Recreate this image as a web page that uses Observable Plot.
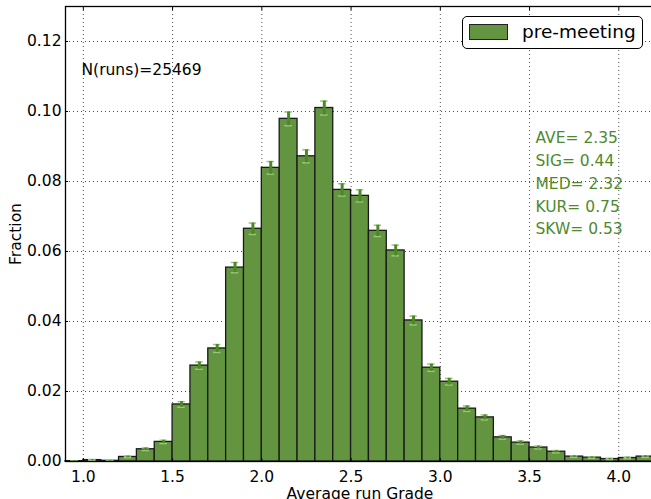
<!DOCTYPE html>
<html>
<head>
<meta charset="utf-8">
<script src="https://cdn.jsdelivr.net/npm/d3@7"></script>
<script src="https://cdn.jsdelivr.net/npm/@observablehq/plot@0.6"></script>
<style>
  html, body { margin: 0; padding: 0; background: #fff; overflow: hidden; }
  #wrap { position: relative; width: 651px; height: 499px; font-family: "DejaVu Sans", sans-serif; }
  #legend { position: absolute; left: 462px; top: 16px; width: 179px; height: 31px; border: 1.3px solid #000; border-radius: 5px; background: #fff; }
  #legend .patch { position: absolute; left: 6px; top: 7px; width: 37px; height: 14px; background: #639540; border: 1px solid #222; }
  #legend .lab { position: absolute; left: 59px; top: 3px; font-size: 18.5px; line-height: 24px; color: #000; }
</style>
</head>
<body>
<div id="wrap"></div>
<script>
// Bin left edges (width 0.1)
const binLeft = [0.9, 1.0, 1.1, 1.2, 1.3, 1.4, 1.5, 1.6, 1.7, 1.8, 1.9, 2.0, 2.1, 2.2, 2.3, 2.4, 2.5,
                 2.6, 2.7, 2.8, 2.9, 3.0, 3.1, 3.2, 3.3, 3.4, 3.5, 3.6, 3.7, 3.8, 3.9, 4.0, 4.1];
// Fraction per bin
const fraction = [0.0001, 0.0004, 0.0002, 0.0013, 0.0035, 0.0056, 0.0163, 0.0274, 0.0323, 0.0554, 0.0665,
                  0.0839, 0.0979, 0.0872, 0.1010, 0.0776, 0.0759, 0.0659, 0.0603, 0.0403, 0.0268, 0.0228,
                  0.0151, 0.0126, 0.0069, 0.0054, 0.0040, 0.0028, 0.0014, 0.0011, 0.0007, 0.0010, 0.0014];
// Error per bin
const fracErr = [0.00006, 0.00013, 0.00009, 0.00023, 0.00037, 0.00047, 0.0008, 0.00104, 0.00113, 0.00147, 0.00162,
                 0.00181, 0.00196, 0.00185, 0.00199, 0.00175, 0.00173, 0.00161, 0.00154, 0.00126, 0.00103, 0.00095,
                 0.00077, 0.0007, 0.00052, 0.00046, 0.0004, 0.00033, 0.00023, 0.00021, 0.00017, 0.0002, 0.00023];
const binWidth = 0.1;
const xTicks = [1.0, 1.5, 2.0, 2.5, 3.0, 3.5, 4.0];
const yTicks = [0.00, 0.02, 0.04, 0.06, 0.08, 0.10, 0.12];
const statsLines = ["AVE= 2.35", "SIG= 0.44", "MED= 2.32", "KUR= 0.75", "SKW= 0.53"];
const nRunsText = "N(runs)=25469";
const legendLabel = "pre-meeting";

const bins = binLeft.map((x, i) => ({x1: x, x2: x + binWidth, xc: x + binWidth / 2, y: fraction[i], lo: fraction[i] - fracErr[i], hi: fraction[i] + fracErr[i]}));

const fill = "#639540";
const errColor = "#4b8a22";
const capColor = "#9cc47f";
const textGreen = "#4e8a2c";
const capHalf = 0.021;

const chart = Plot.plot({
  width: 651,
  height: 499,
  marginLeft: 65,
  marginRight: -3,
  marginTop: 6,
  marginBottom: 38,
  style: {fontFamily: "DejaVu Sans", fontSize: "15.5px", color: "#000", background: "#fff"},
  x: {domain: [0.9, 4.2]},
  y: {domain: [0, 0.13]},
  marks: [
    Plot.gridX(xTicks, {stroke: "#000", strokeOpacity: 0.7, strokeDasharray: "1,3"}),
    Plot.gridY(yTicks, {stroke: "#000", strokeOpacity: 0.7, strokeDasharray: "1,3"}),
    Plot.rectY(bins, {x1: "x1", x2: "x2", y: "y", fill: fill, stroke: "#1a1a1a", strokeWidth: 1.3, inset: 0}),
    Plot.ruleY(bins, {x1: d => d.xc - capHalf, x2: d => d.xc + capHalf, y: "hi", stroke: capColor, strokeWidth: 1.5}),
    Plot.ruleY(bins, {x1: d => d.xc - capHalf, x2: d => d.xc + capHalf, y: "lo", stroke: capColor, strokeWidth: 1.5}),
    Plot.ruleX(bins, {x: "xc", y1: "lo", y2: "hi", stroke: errColor, strokeWidth: 3}),
    Plot.axisX(xTicks, {tickSize: 0, tickPadding: 9, tickFormat: d3.format(".1f"), fontSize: 15.5, label: "Average run Grade", labelAnchor: "center", labelOffset: 37, labelArrow: "none"}),
    Plot.axisX(xTicks, {tickSize: 3, text: null, dy: -3, label: null}),
    Plot.axisX(xTicks, {anchor: "top", tickSize: 3, text: null, dy: 3, label: null}),
    Plot.axisY(yTicks, {tickSize: 0, tickPadding: 4, tickFormat: d3.format(".2f"), fontSize: 15.5, label: "Fraction", labelAnchor: "center", labelOffset: 56, labelArrow: "none"}),
    Plot.axisY(yTicks, {tickSize: 3, text: null, dx: 3, label: null}),
    Plot.frame({stroke: "#000", strokeWidth: 1.3}),
    Plot.text([nRunsText], {frameAnchor: "top-left", dx: 16, dy: 64, text: d => d, textAnchor: "start", lineAnchor: "middle", fontSize: 15.5, fill: "#000"}),
    ...statsLines.map((s, i) => Plot.text([s], {frameAnchor: "top-left", dx: 470, dy: 132 + i * 22.7, text: d => d, textAnchor: "start", lineAnchor: "middle", fontSize: 15.5, fill: textGreen}))
  ]
});
document.getElementById("wrap").appendChild(chart);

const leg = document.createElement("div");
leg.id = "legend";
leg.innerHTML = '<div class="patch"></div><div class="lab"></div>';
leg.querySelector(".lab").textContent = legendLabel;
document.getElementById("wrap").appendChild(leg);
</script>
</body>
</html>
